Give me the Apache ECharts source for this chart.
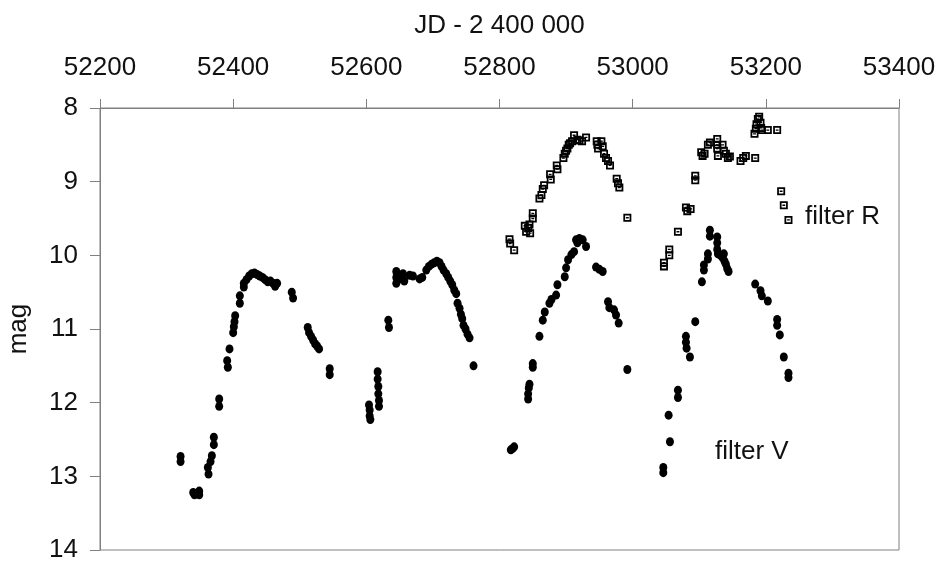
<!DOCTYPE html>
<html>
<head>
<meta charset="utf-8">
<script src="https://cdn.jsdelivr.net/npm/echarts@6/dist/echarts.min.js"></script>
<style>
html,body{margin:0;padding:0;background:#fff;}
#c{width:940px;height:562px;}
</style>
</head>
<body>
<div id="c"></div>
<script>
// Filter V (filled dots)
const vJD = [
52321,52321,
52340,52342,52345,52349,52349,
52362,52363,52366,52368,
52371,52371,
52379,52379,
52391,52392,52394.5,
52400,52401,52402,52403,
52410,52410,
52416,52416,
52420,52424,52428,52432,52436,52440,52444,52448,52452,52456,52460,52463,52466,
52488,52490,
52512,52514,52517,52520,52523,52526,52529,
52545,52545,
52604,52605,52605,52606,
52617,52617,52618,52618,52619,52619,
52633,52634,
52645,52645,52645,52650,52655,52657,52665,52670,
52680,52684,
52690,52694,52698,52702,52706,52710,
52713,52716,52720,52723,52726,52729,52732,52735,
52737,52740,52742,52744,
52746,52749,52752,52755,
52761,
52817,52820,52822,
52843,52843,52844,52845,
52850,52850,
52860,
52865,52868,52875,52878,52885,52887,
52898,52900,52903,52908,52912,
52915,52920,52925,52917,
52930,
52945,52950,52955,
52963,52965,52972,52975,52979,
52992,
53046,53046,
53054,53056,
53068,53068,
53080,53080,53081,53086,
53094,
53104,
53107,53107,
53113,53113,
53116,53116,
53127,53127,53127,
53128,53132,53135,53137,53138,53140,53142,53144,
53184,53192,53194,53203,
53217,53217,53221,53227,53234,53234
];
const vMag = [
12.73,12.80,
13.22,13.25,13.23,13.20,13.25,
12.88,12.97,12.80,12.72,
12.47,12.57,
11.95,12.05,
11.43,11.52,11.27,
11.05,10.97,10.90,10.82,
10.55,10.65,
10.38,10.43,
10.33,10.28,10.25,10.24,10.26,10.28,10.30,10.33,10.36,10.35,10.38,10.42,10.38,
10.50,10.58,
10.98,11.05,11.10,11.15,11.20,11.23,11.27,
11.54,11.62,
12.03,12.10,12.18,12.23,
11.58,11.68,11.78,11.88,11.97,12.05,
10.88,10.98,
10.22,10.30,10.38,10.32,10.25,10.35,10.27,10.28,
10.32,10.30,
10.20,10.15,10.12,10.10,10.08,10.10,
10.15,10.20,10.25,10.30,10.35,10.40,10.47,10.52,
10.65,10.72,10.80,10.86,
10.95,11.00,11.07,11.12,
11.50,
12.64,12.62,12.60,
11.95,11.88,11.80,11.75,
11.47,11.52,
11.10,
10.88,10.77,10.65,10.60,10.54,10.40,
10.29,10.17,10.06,9.99,9.95,
9.79,9.77,9.79,9.83,
9.88,
10.16,10.19,10.22,
10.63,10.71,10.74,10.81,10.92,
11.55,
12.88,12.95,
12.17,12.53,
11.83,11.93,
11.10,11.18,11.26,11.38,
10.90,
10.36,
10.13,10.20,
9.98,10.05,
9.66,9.74,
9.75,9.83,9.92,
9.98,10.00,10.03,9.98,10.08,10.12,10.18,10.22,
10.39,10.48,10.55,10.62,
10.87,10.95,11.08,11.38,11.60,11.66
];
// Filter R (open squares)
const rJD = [
52815,52816,52822,
52838,52840,52843,52846,52845,
52850,52850,
52860,
52863,52865,52867,
52876,52877,
52886,52887,
52896,52898,52900,52902,52904,52906,52909,
52912,52917,52924,52930,52920,
52946,52947,52948,52953,52955,
52957,52960,52963,52966,
52976,52978,52980,
52992,
53047,53047,
53055,53055,
53068,
53080,53082,53087,
53094,53094,
53103,53105,53108,
53113,53116,
53127,53127,53127,53128,
53135,53137,53140,53143,53146,
53162,53166,53170,
53184,
53183,53185,53186,53188,53190,53192,53193,53194,
53203,53217,
53223,53227,53234
];
const rMag = [
9.78,9.84,9.93,
9.60,9.68,9.63,9.70,9.58,
9.43,9.50,
9.23,
9.18,9.10,9.05,
8.90,8.97,
8.78,8.83,
8.68,8.62,8.58,8.55,8.50,8.48,8.45,
8.37,8.43,8.45,8.40,8.44,
8.45,8.50,8.55,8.45,8.52,
8.62,8.68,8.72,8.78,
8.96,9.02,9.08,
9.49,
10.10,10.15,
9.92,10.00,
9.68,
9.35,9.40,9.37,
8.92,8.98,
8.60,8.65,8.62,
8.50,8.47,
8.42,8.50,8.55,8.65,
8.50,8.58,8.62,8.68,8.66,
8.72,8.68,8.65,
8.68,
8.35,8.28,8.22,8.15,8.12,8.20,8.27,8.30,
8.30,8.30,
9.13,9.32,9.52
];
const xTicks = [52200,52400,52600,52800,53000,53200,53400];
const yTicks = [8,9,10,11,12,13,14];
const xTitle = 'JD - 2 400 000';
const yTitle = 'mag';
const labelR = 'filter R';
const labelV = 'filter V';

const FONT = '"Liberation Sans", Arial, sans-serif';
const AX = '#808080';
const vData = vJD.map((x,i)=>[x, vMag[i]]);
const rData = rJD.map((x,i)=>[x, rMag[i]]);

const chart = echarts.init(document.getElementById('c'), null, {renderer:'canvas'});
chart.setOption({
  animation:false,
  backgroundColor:'#fff',
  grid:{left:100, right:41, top:108, bottom:12, show:true, borderColor:AX, borderWidth:1,
        backgroundColor:'transparent', containLabel:false, outerBoundsMode:'none'},
  xAxis:{
    type:'value', position:'top',
    min:xTicks[0], max:xTicks[xTicks.length-1], interval:200,
    name:xTitle, nameLocation:'middle', nameGap:69,
    nameTextStyle:{fontFamily:FONT, fontSize:26, color:'#111'},
    axisLine:{show:true, lineStyle:{color:AX, width:1}},
    axisTick:{show:true, length:9, lineStyle:{color:AX}},
    splitLine:{show:false},
    axisLabel:{fontFamily:FONT, fontSize:26, color:'#111', margin:27, formatter:v=>String(v)}
  },
  yAxis:{
    type:'value', inverse:true,
    min:yTicks[0], max:yTicks[yTicks.length-1], interval:1,
    name:yTitle, nameLocation:'middle', nameGap:68,
    nameTextStyle:{fontFamily:FONT, fontSize:26, color:'#111'},
    axisLine:{show:true, lineStyle:{color:AX, width:1}},
    axisTick:{show:true, length:10, lineStyle:{color:AX}},
    splitLine:{show:false},
    axisLabel:{fontFamily:FONT, fontSize:26, color:'#111', margin:22, formatter:v=>String(v)}
  },
  series:[
    {type:'scatter', name:'V', data:vData, symbol:'circle', symbolSize:[8,9],
     itemStyle:{color:'#000', opacity:1}},
    {type:'scatter', name:'R', data:rData,
     symbol:'path://M0,0H10V10H0Z M2.2,2.2V7.8H7.8V2.2Z M3.2,4.2H6.8V5.8H3.2Z', symbolSize:8,
     itemStyle:{color:'#000', opacity:1}}
  ],
  graphic:[
    {type:'text', left:805, top:204, style:{text:labelR, font:'26px '+FONT, fill:'#111'}},
    {type:'text', left:715, top:439, style:{text:labelV, font:'26px '+FONT, fill:'#111'}}
  ]
});
</script>
</body>
</html>
